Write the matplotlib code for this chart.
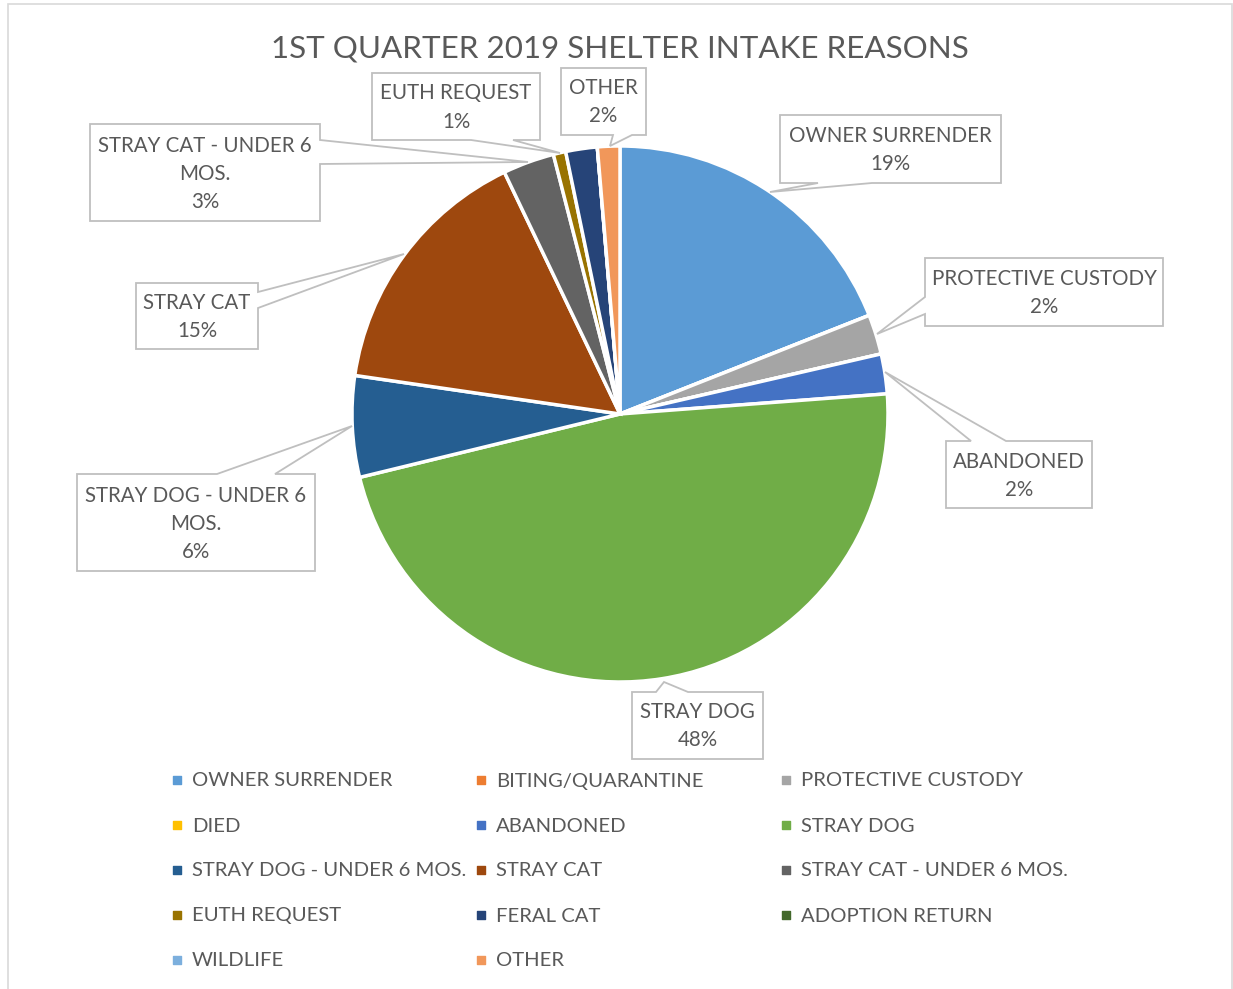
import matplotlib.pyplot as plt
import numpy as np
from matplotlib.patches import Polygon, Rectangle

plt.rcParams['font.family'] = ['Lato', 'DejaVu Sans']

W, H = 1233, 989

# data (percent of intake)
reasons = ["OWNER SURRENDER", "BITING/QUARANTINE", "PROTECTIVE CUSTODY", "DIED",
           "ABANDONED", "STRAY DOG", "STRAY DOG - UNDER 6 MOS.", "STRAY CAT",
           "STRAY CAT - UNDER 6 MOS.", "EUTH REQUEST", "FERAL CAT",
           "ADOPTION RETURN", "WILDLIFE", "OTHER"]
shares = [19.0, 0.0, 2.4, 0.0, 2.4, 47.4, 6.1, 15.6, 3.1, 0.75, 1.9, 0.0, 0.0, 1.35]
pct_labels = ["19%", "0%", "2%", "0%", "2%", "48%", "6%", "15%", "3%", "1%", "2%",
              "0%", "0%", "2%"]
colors = ["#5B9BD5", "#ED7D31", "#A5A5A5", "#FFC000", "#4472C4", "#70AD47",
          "#255E91", "#9E480E", "#636363", "#997300", "#264478", "#43682B",
          "#7CAFDD", "#F1975A"]

TXT = "#595959"
EDGE = "#BFBFBF"

# callout boxes (pixel coords, y down): box x0, y0, x1, y1, side, base a, base b, tip
callouts = {
    "OWNER SURRENDER": (780, 115, 1001, 183, "bottom", 818, 872, (770, 192)),
    "PROTECTIVE CUSTODY": (925, 258, 1163, 326, "left", 297, 314, (877, 334)),
    "ABANDONED": (946, 441, 1092, 508, "top", 971, 1006, (885, 372)),
    "STRAY DOG": (632, 692, 763, 759, "top", 656, 688, (664, 682)),
    "STRAY DOG - UNDER 6 MOS.": (77, 474, 315, 571, "top", 217, 275, (352, 426)),
    "STRAY CAT": (136, 283, 258, 349, "right", 292, 308, (404, 254)),
    "STRAY CAT - UNDER 6 MOS.": (90, 124, 320, 221, "right", 140, 164, (528, 162)),
    "EUTH REQUEST": (372, 73, 540, 140, "bottom", 471, 513, (560, 153)),
    "OTHER": (561, 68, 646, 135, "bottom", 613, 632, (610, 146)),
}
wrapped = {
    "STRAY DOG - UNDER 6 MOS.": "STRAY DOG - UNDER 6\nMOS.",
    "STRAY CAT - UNDER 6 MOS.": "STRAY CAT - UNDER 6\nMOS.",
}


def P(x, y):
    return (x, H - y)


fig = plt.figure(figsize=(W / 100, H / 100), dpi=100)
ax = fig.add_axes([0, 0, 1, 1])

# chart frame
ax.add_patch(Rectangle(P(8, 1000), 1224, 996, fill=False, ec="#D9D9D9", lw=1.2))

ax.text(620, H - 49, "1ST QUARTER 2019 SHELTER INTAKE REASONS", ha="center",
        va="center", fontsize=22.6, color=TXT)

ax.pie(shares, colors=colors, center=P(620, 414), radius=268, startangle=90,
       counterclock=False, frame=True,
       wedgeprops=dict(edgecolor="white", linewidth=2.5))
ax.set_xlim(0, W)
ax.set_ylim(0, H)
ax.axis("off")

for name, (x0, y0, x1, y1, side, a, b, tip) in callouts.items():
    if side == "bottom":
        pts = [(x0, y0), (x1, y0), (x1, y1), (b, y1), tip, (a, y1), (x0, y1)]
    elif side == "top":
        pts = [(x0, y0), (a, y0), tip, (b, y0), (x1, y0), (x1, y1), (x0, y1)]
    elif side == "left":
        pts = [(x0, y0), (x1, y0), (x1, y1), (x0, y1), (x0, b), tip, (x0, a)]
    else:
        pts = [(x0, y0), (x1, y0), (x1, a), tip, (x1, b), (x1, y1), (x0, y1)]
    ax.add_patch(Polygon([P(*p) for p in pts], closed=True, fc="white",
                         ec=EDGE, lw=1.3, zorder=5))
    i = reasons.index(name)
    label = wrapped.get(name, name) + "\n" + pct_labels[i]
    ax.text((x0 + x1) / 2, H - (y0 + y1) / 2 - 1, label, ha="center", va="center",
            fontsize=14.8, color=TXT, linespacing=1.5, zorder=6)

# legend, row-major in 3 columns
col_x = [177, 481, 786]
for i, name in enumerate(reasons):
    r, c = divmod(i, 3)
    y = 781 + 45 * r
    ax.scatter([col_x[c]], [H - y + 1], marker="s", s=40, color=colors[i], zorder=5)
    ax.text(col_x[c] + 15, H - y, name, ha="left", va="center", fontsize=14.6,
            color=TXT)

fig.savefig("out.png", dpi=100)
